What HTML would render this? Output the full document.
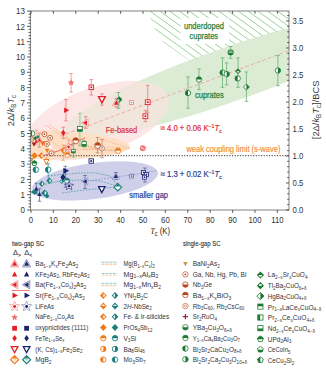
<!DOCTYPE html>
<html><head><meta charset="utf-8"><style>
html,body{margin:0;padding:0;background:#fff;}
svg{display:block;}
</style></head><body>
<svg width="326" height="371" viewBox="0 0 326 371">
<rect width="326" height="371" fill="#fff"/>
<defs><clipPath id="pc"><rect x="30.5" y="11" width="258.5" height="199"/></clipPath><clipPath id="cpink"><ellipse cx="97.3" cy="120.8" rx="74.9" ry="33.3" transform="rotate(-18.9 97.3 120.8)"/></clipPath><clipPath id="hc"><path d="M149.2,11 C150,15 150.6,18 151.6,21 C152.6,24.5 153.8,27.5 155.8,30.5 C158.2,34.5 160.8,38.5 164,42.8 L191,61.6 L200,56.4 L210,52.7 L220,49.2 L235,44.1 L250,39.3 L270,33.4 L289,27.9 L289,11 Z"/></clipPath><mask id="hm"><rect x="0" y="0" width="326" height="371" fill="#fff"/><rect x="180.5" y="18" width="48.5" height="26" fill="#000"/></mask></defs>
<g clip-path="url(#pc)">
<ellipse cx="97.3" cy="120.8" rx="74.9" ry="33.3" transform="rotate(-18.9 97.3 120.8)" fill="#fde6e6"/>
<ellipse cx="226.8" cy="75.5" rx="172.9" ry="27.1" transform="rotate(-19.2 226.8 75.5)" fill="#dcecd4"/>
<g clip-path="url(#cpink)"><ellipse cx="226.8" cy="75.5" rx="172.9" ry="27.1" transform="rotate(-19.2 226.8 75.5)" fill="#f1e6dc"/></g>
<ellipse cx="43.0" cy="144.6" rx="86.9" ry="14.1" transform="rotate(1.5 43.0 144.6)" fill="#fddfc6"/>
<ellipse cx="95.0" cy="180.9" rx="63.5" ry="18.0" transform="rotate(-7.5 95.0 180.9)" fill="#cfcfea"/>
<g clip-path="url(#hc)"><path d="M91.10,11 l120,86.40M100.90,11 l120,86.40M110.70,11 l120,86.40M120.50,11 l120,86.40M130.30,11 l120,86.40M140.10,11 l120,86.40M149.90,11 l120,86.40M159.70,11 l120,86.40M169.50,11 l120,86.40M179.30,11 l120,86.40M189.10,11 l120,86.40M198.90,11 l120,86.40M208.70,11 l120,86.40M218.50,11 l120,86.40M228.30,11 l120,86.40M238.10,11 l120,86.40M247.90,11 l120,86.40M257.70,11 l120,86.40M267.50,11 l120,86.40M277.30,11 l120,86.40M287.10,11 l120,86.40M296.90,11 l120,86.40" stroke="#92d292" stroke-width="0.95" fill="none" mask="url(#hm)"/></g>
<path d="M60,136.2 L289,50.6" stroke="#eea4a4" stroke-width="0.95" stroke-dasharray="3.6,2.4" fill="none"/>
<path d="M30.5,155.7 H289" stroke="#333" stroke-width="1" stroke-dasharray="1.2,1.45" fill="none"/>
<g fill="none" stroke-width="0.7" stroke-dasharray="1.8,1.2">
<path d="M45,125 L72,142 L100,150 L118,151" stroke="#f0a070"/>
<path d="M49,124.5 L78,145 L95,147" stroke="#f0a070"/>
<path d="M40,133 L64,150 L90,149 L115,147 L130,149" stroke="#f3b080"/>
<path d="M83,149.5 L118,150" stroke="#f0a070"/>
<path d="M100,139 L130,148" stroke="#f3b080"/>
<path d="M48,176 L62,174.5 L80,173 L95,172.8 L110,176 L118,186" stroke="#3f9a9a"/>
<path d="M42,185 L60,181 L80,180 L100,181 L117,186" stroke="#3f9a9a"/>
<path d="M62,193 L80,190.5 L100,188.5 L117,187" stroke="#3f9a9a"/>
<path d="M92,180.5 L115,177 L132,175 L156,170.7" stroke="#8a8cc0"/>
</g>
<path d="M44.6,155.2 L58,151 L67,146.5 L85,137.9" stroke="#e8444a" stroke-width="0.8" fill="none"/>
<path d="M71.10,73.50V92.20M69.30,73.50H72.90M69.30,92.20H72.90" stroke="#f08080" stroke-width="0.75" fill="none"/>
<path d="M71.10,79.30 L72.10,81.32 L74.33,81.65 L72.72,83.23 L73.10,85.45 L71.10,84.40 L69.10,85.45 L69.48,83.23 L67.87,81.65 L70.10,81.32 Z" fill="#f07070"/>
<path d="M91.30,79.60V95.00M89.50,79.60H93.10M89.50,95.00H93.10" stroke="#e67474" stroke-width="0.75" fill="none"/>
<rect x="89.00" y="85.00" width="4.60" height="4.60" fill="#fff" stroke="#e41e26" stroke-width="0.9"/><rect x="90.38" y="86.38" width="1.84" height="1.84" fill="#e41e26"/>
<path d="M101.90,93.80V105.20M100.10,93.80H103.70M100.10,105.20H103.70" stroke="#e67474" stroke-width="0.75" fill="none"/>
<path d="M101.90,102.90 L105.32,96.60 L98.48,96.60 Z" fill="#fff" stroke="#e41e26" stroke-width="1.4" stroke-linejoin="miter"/>
<path d="M116.30,98.30V107.20M114.50,98.30H118.10M114.50,107.20H118.10" stroke="#e67474" stroke-width="0.75" fill="none"/>
<path d="M116.30,98.60 L120.29,105.95 L112.31,105.95 Z" fill="#fff" fill-opacity="0.6" stroke="#f09090" stroke-width="0.7"/><path d="M116.30,100.20 L118.77,104.75 L113.83,104.75 Z" fill="#e41e26"/>
<path d="M118.40,92.50V108.40M116.60,92.50H120.20M116.60,108.40H120.20" stroke="#62ad72" stroke-width="0.75" fill="none"/>
<path d="M119.20,96.80 L122.00,99.60 L119.20,102.40 L116.40,99.60 Z" fill="#fff" stroke="#1b7a30" stroke-width="0.7"/><path d="M119.2,96.8 L122,99.6 L116.4,99.6 Z" fill="#1b7a30"/><path d="M119.2,96.8 L122,99.6 L119.2,102.4 Z" fill="#1b7a30"/>
<rect x="129.60" y="100.70" width="3.80" height="3.80" fill="#fff" stroke="#f07070" stroke-width="0.7"/><rect x="130.74" y="101.84" width="1.52" height="1.52" fill="#f07070"/>
<path d="M147.70,85.40V112.20M145.90,85.40H149.50M145.90,112.20H149.50" stroke="#e67474" stroke-width="0.75" fill="none"/>
<rect x="145.30" y="99.80" width="4.80" height="4.80" fill="#fff" stroke="#e41e26" stroke-width="0.9"/><rect x="146.74" y="101.24" width="1.92" height="1.92" fill="#e41e26"/>
<path d="M145.40,110.40V121.70M143.60,110.40H147.20M143.60,121.70H147.20" stroke="#e67474" stroke-width="0.75" fill="none"/>
<rect x="143.00" y="113.90" width="4.80" height="4.80" fill="#fff" stroke="#e41e26" stroke-width="0.9"/><rect x="144.44" y="115.34" width="1.92" height="1.92" fill="#e41e26"/>
<path d="M66.00,99.60V120.80M64.20,99.60H67.80M64.20,120.80H67.80" stroke="#e67474" stroke-width="0.75" fill="none"/>
<path d="M69.20,110.30 L64.12,107.55 L64.12,113.05 Z" fill="#e41e26"/>
<path d="M85.80,116.70V128.30M84.00,116.70H87.60M84.00,128.30H87.60" stroke="#e67474" stroke-width="0.75" fill="none"/>
<path d="M81.20,122.80 L88.20,119.00 L88.20,126.60 Z" fill="#fff" fill-opacity="0.6" stroke="#f09090" stroke-width="0.7"/><path d="M82.72,122.80 L87.06,120.44 L87.06,125.16 Z" fill="#e41e26"/>
<path d="M79.90,113.30V146.00M78.10,113.30H81.70M78.10,146.00H81.70" stroke="#7cc08a" stroke-width="0.75" fill="none"/>
<rect x="77.50" y="126.50" width="4.80" height="4.80" fill="#fff" stroke="#1b7a30" stroke-width="0.8"/><rect x="77.50" y="129.14" width="4.80" height="2.16" fill="#1b7a30"/>
<path d="M63.30,127.10V138.60M61.50,127.10H65.10M61.50,138.60H65.10" stroke="#e67474" stroke-width="0.75" fill="none"/>
<path d="M63.30,129.70 L65.50,132.80 L63.30,135.90 L61.10,132.80 Z" fill="#e41e26"/>
<circle cx="142.80" cy="148.30" r="3.00" fill="#f07878"/><path d="M140.6,147.2 L144.6,149.4" stroke="#fff" stroke-width="0.8"/>
<path d="M36.30,130.00V144.30M34.50,130.00H38.10M34.50,144.30H38.10" stroke="#f0a0a0" stroke-width="0.75" fill="none"/>
<path d="M39.30,133.30V147.10M37.50,133.30H41.10M37.50,147.10H41.10" stroke="#e67474" stroke-width="0.75" fill="none"/>
<circle cx="32.10" cy="133.50" r="2.70" fill="#fff" stroke="#1b7a30" stroke-width="0.8"/><path d="M32.10,130.80 A2.70,2.70 0 0 0 32.10,136.20 Z" fill="#1b7a30"/>
<circle cx="31.40" cy="139.30" r="2.40" fill="#fff" stroke="#b5461a" stroke-width="0.7"/><circle cx="31.40" cy="139.30" r="1.01" fill="none" stroke="#b5461a" stroke-width="0.5599999999999999"/>
<path d="M35.20,136.00 L37.00,138.20 L35.20,140.40 L33.40,138.20 Z" fill="#1b7a30"/>
<path d="M38.00,134.80 L39.80,137.00 L38.00,139.20 L36.20,137.00 Z" fill="#1a7f7a"/>
<path d="M39.50,136.70 L42.54,142.30 L36.46,142.30 Z" fill="#fff" fill-opacity="0.6" stroke="#f09090" stroke-width="0.6"/><path d="M39.50,137.92 L41.38,141.39 L37.62,141.39 Z" fill="#e41e26"/>
<path d="M36.30,139.40 L38.10,142.73 L34.49,142.73 Z" fill="#e41e26"/>
<path d="M34.00,146.70 L36.28,142.50 L31.72,142.50 Z" fill="#a01818"/>
<circle cx="44.40" cy="134.20" r="2.50" fill="#fff" stroke="#b5461a" stroke-width="0.8"/><circle cx="44.40" cy="134.20" r="0.88" fill="#b5461a"/>
<circle cx="50.10" cy="137.90" r="2.50" fill="#fff" stroke="#b5461a" stroke-width="0.8"/><circle cx="50.10" cy="137.90" r="0.88" fill="#b5461a"/>
<circle cx="46.90" cy="143.90" r="2.50" fill="#fff" stroke="#b5461a" stroke-width="0.8"/><circle cx="46.90" cy="143.90" r="0.88" fill="#b5461a"/>
<circle cx="51.50" cy="153.30" r="2.50" fill="#fff" stroke="#b5461a" stroke-width="0.8"/><circle cx="51.50" cy="153.30" r="0.88" fill="#b5461a"/>
<path d="M42.70,146.20 L45.36,141.30 L40.04,141.30 Z" fill="#f07a1a"/>
<circle cx="50.20" cy="147.20" r="1.60" fill="#fff"/>
<path d="M34.40,152.30 L37.70,155.60 L34.40,158.90 L31.10,155.60 Z" fill="#f07a1a"/>
<path d="M41.30,152.30 L44.30,155.60 L41.30,158.90 L38.30,155.60 Z" fill="#f07a1a"/><path d="M41.30,154.10 A1.50,1.50 0 0 1 41.30,157.10 Z" fill="#fff"/>
<path d="M47.20,152.90 L49.48,148.70 L44.92,148.70 Z" fill="#f07a1a"/>
<path d="M63.20,145.00V160.30M61.40,145.00H65.00M61.40,160.30H65.00" stroke="#f0a060" stroke-width="0.75" fill="none"/>
<path d="M63.60,147.30 L66.60,150.50 L63.60,153.70 L60.60,150.50 Z" fill="#f07a1a"/><path d="M63.60,149.00 A1.50,1.50 0 0 1 63.60,152.00 Z" fill="#fff"/>
<circle cx="67.30" cy="154.80" r="2.60" fill="#fff" stroke="#f07a1a" stroke-width="0.8"/><path d="M64.70,154.80 A2.60,2.60 0 0 1 69.90,154.80 Z" fill="#f07a1a"/>
<path d="M73.40,144.00V157.00M71.60,144.00H75.20M71.60,157.00H75.20" stroke="#62ad72" stroke-width="0.75" fill="none"/>
<rect x="71.60" y="149.30" width="3.60" height="3.60" fill="#fff" stroke="#1b7a30" stroke-width="0.8"/><rect x="71.60" y="151.28" width="3.60" height="1.62" fill="#1b7a30"/>
<path d="M68.60,140.00V152.00M66.80,140.00H70.40M66.80,152.00H70.40" stroke="#f0a0a0" stroke-width="0.75" fill="none"/>
<path d="M68.60,142.50 L69.76,145.30 L72.78,145.54 L70.48,147.51 L71.19,150.46 L68.60,148.88 L66.01,150.46 L66.72,147.51 L64.42,145.54 L67.44,145.30 Z" fill="#fff" fill-opacity="0.5" stroke="#f07a7a" stroke-width="0.6"/><circle cx="68.60" cy="146.90" r="1.23" fill="#e41e26"/>
<circle cx="75.70" cy="140.60" r="2.90" fill="#fff" stroke="#b5461a" stroke-width="0.8"/><path d="M72.80,140.60 A2.90,2.90 0 0 1 78.60,140.60 Z" fill="#b5461a"/>
<path d="M84.10,140.60V147.10M82.30,140.60H85.90M82.30,147.10H85.90" stroke="#62ad72" stroke-width="0.75" fill="none"/>
<rect x="81.90" y="141.70" width="4.40" height="4.40" fill="#fff" stroke="#1b7a30" stroke-width="0.8"/><rect x="81.90" y="144.12" width="4.40" height="1.98" fill="#1b7a30"/>
<path d="M97.60,137.50V152.80M95.80,137.50H99.40M95.80,152.80H99.40" stroke="#c08060" stroke-width="0.75" fill="none"/>
<circle cx="97.60" cy="145.40" r="2.90" fill="#fff" stroke="#b5461a" stroke-width="0.8"/><path d="M94.70,145.40 A2.90,2.90 0 0 1 100.50,145.40 Z" fill="#b5461a"/>
<path d="M102.00,139.30V157.70M100.20,139.30H103.80M100.20,157.70H103.80" stroke="#c08060" stroke-width="0.75" fill="none"/>
<circle cx="102.00" cy="148.50" r="2.50" fill="#fff" stroke="#b07060" stroke-width="0.8"/><circle cx="102.00" cy="148.50" r="1.05" fill="none" stroke="#b07060" stroke-width="0.6400000000000001"/>
<circle cx="118.00" cy="150.70" r="2.80" fill="#fff" stroke="#f07a1a" stroke-width="0.8"/><path d="M115.20,150.70 A2.80,2.80 0 0 1 120.80,150.70 Z" fill="#f07a1a"/>
<path d="M31.70,162.10 L33.88,158.08 L29.52,158.08 Z" fill="#c29a55"/>
<path d="M34.40,160.40 L37.06,162.33 L36.05,165.47 L32.75,165.47 L31.74,162.33 Z" fill="#fff" stroke="#1b7a30" stroke-width="0.8"/><path d="M31.74,162.33 L34.40,160.40 L37.06,162.33 L36.92,163.48 L31.88,163.48 Z" fill="#1b7a30"/>
<path d="M46.40,158.00V164.00M44.60,158.00H48.20M44.60,164.00H48.20" stroke="#f0a060" stroke-width="0.75" fill="none"/>
<path d="M46.40,164.40 L49.06,159.50 L43.74,159.50 Z" fill="#fff" stroke="#f07a1a" stroke-width="1.0" stroke-linejoin="miter"/>
<rect x="89.00" y="158.80" width="4.40" height="4.40" fill="#fff" stroke="#1c2472" stroke-width="0.9"/><rect x="90.32" y="160.12" width="1.76" height="1.76" fill="#1c2472"/>
<path d="M48.20,163.70V181.20M46.40,163.70H50.00M46.40,181.20H50.00" stroke="#4a9a96" stroke-width="0.75" fill="none"/>
<circle cx="35.80" cy="169.70" r="2.80" fill="#fff" stroke="#1a7f7a" stroke-width="0.9"/><path d="M35.80,166.90 A2.80,2.80 0 0 0 35.80,172.50 Z" fill="#1a7f7a"/>
<circle cx="48.20" cy="169.70" r="2.80" fill="#fff" stroke="#1a7f7a" stroke-width="0.9"/><path d="M48.20,166.90 A2.80,2.80 0 0 0 48.20,172.50 Z" fill="#1a7f7a"/>
<path d="M49.40,177.60 L52.40,180.80 L49.40,184.00 L46.40,180.80 Z" fill="#1a7f7a"/><path d="M49.40,179.30 A1.50,1.50 0 0 1 49.40,182.30 Z" fill="#fff"/>
<path d="M41.80,180.50 L44.80,183.70 L41.80,186.90 L38.80,183.70 Z" fill="#1a7f7a"/><path d="M41.80,182.20 A1.50,1.50 0 0 1 41.80,185.20 Z" fill="#fff"/>
<path d="M36.30,183.20V194.00M34.50,183.20H38.10M34.50,194.00H38.10" stroke="#5a5f9a" stroke-width="0.75" fill="none"/>
<path d="M36.30,186.50 L38.58,190.70 L34.02,190.70 Z" fill="#1c2472"/>
<path d="M34.40,189.20 L38.20,192.00 L34.40,194.80 L30.60,192.00 Z" fill="#1a7f7a"/>
<path d="M39.50,188.70V201.20M37.70,188.70H41.30M37.70,201.20H41.30" stroke="#5a5f9a" stroke-width="0.75" fill="none"/>
<path d="M39.50,191.90 L41.78,196.10 L37.22,196.10 Z" fill="#1c2472"/>
<path d="M44.60,189.40 L48.20,193.00 L44.60,196.60 L41.00,193.00 Z" fill="#1a7f7a"/><path d="M44.60,191.20 A1.80,1.80 0 0 1 44.60,194.80 Z" fill="#fff"/>
<path d="M47.00,193.60 L49.40,196.00 L47.00,198.40 L44.60,196.00 Z" fill="#1a7f7a"/>
<path d="M65.40,166.30V187.20M63.60,166.30H67.20M63.60,187.20H67.20" stroke="#5a5f9a" stroke-width="0.75" fill="none"/>
<path d="M69.10,170.80 L63.32,167.67 L63.32,173.94 Z" fill="#1c2472"/>
<path d="M63.00,173.70 L65.60,177.30 L63.00,180.90 L60.40,177.30 Z" fill="#1c2472"/>
<circle cx="67.00" cy="180.60" r="2.60" fill="#fff" stroke="#1a7f7a" stroke-width="0.8"/><path d="M64.40,180.60 A2.60,2.60 0 0 1 69.60,180.60 Z" fill="#1a7f7a"/>
<path d="M61.70,179.20 L64.10,181.60 L61.70,184.00 L59.30,181.60 Z" fill="#1a7f7a"/><path d="M61.70,180.40 A1.20,1.20 0 0 0 61.70,182.80 Z" fill="#fff"/>
<path d="M69.10,181.10 L70.37,184.15 L73.67,184.42 L71.15,186.57 L71.92,189.78 L69.10,188.06 L66.28,189.78 L67.05,186.57 L64.53,184.42 L67.83,184.15 Z" fill="#fff" fill-opacity="0.5" stroke="#4a4f90" stroke-width="0.8"/><circle cx="69.10" cy="185.90" r="1.34" fill="#1c2472"/>
<path d="M85.00,175.50V188.40M83.20,175.50H86.80M83.20,188.40H86.80" stroke="#5a5f9a" stroke-width="0.75" fill="none"/>
<path d="M81.20,181.40 L87.85,177.79 L87.85,185.01 Z" fill="#fff" fill-opacity="0.6" stroke="#7a7fb0" stroke-width="0.6"/><path d="M82.64,181.40 L86.77,179.16 L86.77,183.64 Z" fill="#1c2472"/>
<path d="M115.90,172.50V179.50M114.10,172.50H117.70M114.10,179.50H117.70" stroke="#5a5f9a" stroke-width="0.75" fill="none"/>
<path d="M115.90,172.40 L119.51,179.05 L112.29,179.05 Z" fill="#fff" fill-opacity="0.6" stroke="#7a7fb0" stroke-width="0.6"/><path d="M115.90,173.84 L118.14,177.97 L113.66,177.97 Z" fill="#1c2472"/>
<rect x="129.80" y="174.20" width="3.80" height="3.80" fill="#fff" stroke="#4a50a0" stroke-width="0.7"/><rect x="130.94" y="175.34" width="1.52" height="1.52" fill="#4a50a0"/>
<path d="M144.90,168.00V182.00M143.10,168.00H146.70M143.10,182.00H146.70" stroke="#5a5f9a" stroke-width="0.75" fill="none"/>
<rect x="141.50" y="170.50" width="4.00" height="4.00" fill="#fff" stroke="#1c2472" stroke-width="0.8"/><rect x="142.70" y="171.70" width="1.60" height="1.60" fill="#1c2472"/>
<rect x="144.50" y="172.50" width="4.00" height="4.00" fill="#fff" stroke="#1c2472" stroke-width="0.8"/><rect x="145.70" y="173.70" width="1.60" height="1.60" fill="#1c2472"/>
<rect x="142.50" y="175.20" width="4.00" height="4.00" fill="#fff" stroke="#1c2472" stroke-width="0.8"/><rect x="143.70" y="176.40" width="1.60" height="1.60" fill="#1c2472"/>
<path d="M101.80,192.60 L105.03,186.65 L98.57,186.65 Z" fill="#fff" stroke="#1c2472" stroke-width="1.3" stroke-linejoin="miter"/>
<path d="M117.80,183.40 L121.60,187.20 L117.80,191.00 L114.00,187.20 Z" fill="#fff" stroke="#1a7f7a" stroke-width="1.1"/><path d="M115.4,186.4 H120.2 L117.8,183.8 Z" fill="#1a7f7a"/>
<path d="M188.00,76.90V108.30M186.20,76.90H189.80M186.20,108.30H189.80" stroke="#62ad72" stroke-width="0.75" fill="none"/>
<circle cx="188.00" cy="93.00" r="2.70" fill="#fff" stroke="#1b7a30" stroke-width="0.8"/><path d="M188.00,90.30 A2.70,2.70 0 0 0 188.00,95.70 Z" fill="#1b7a30"/>
<path d="M199.00,69.00V89.60M197.20,69.00H200.80M197.20,89.60H200.80" stroke="#62ad72" stroke-width="0.75" fill="none"/>
<circle cx="199.00" cy="79.50" r="2.70" fill="#fff" stroke="#1b7a30" stroke-width="0.8"/><path d="M196.30,79.50 A2.70,2.70 0 0 1 201.70,79.50 Z" fill="#1b7a30"/>
<path d="M230.60,46.50V58.30M228.80,46.50H232.40M228.80,58.30H232.40" stroke="#62ad72" stroke-width="0.75" fill="none"/>
<circle cx="230.60" cy="52.40" r="2.70" fill="#fff" stroke="#1b7a30" stroke-width="0.8"/><path d="M227.90,52.40 A2.70,2.70 0 0 0 233.30,52.40 Z" fill="#1b7a30"/><rect x="228" y="50.4" width="5.2" height="1.2" fill="#1b7a30"/>
<path d="M222.50,57.90V87.30M220.70,57.90H224.30M220.70,87.30H224.30" stroke="#62ad72" stroke-width="0.75" fill="none"/>
<circle cx="222.60" cy="72.60" r="2.70" fill="#fff" stroke="#1b7a30" stroke-width="0.8"/><path d="M222.60,69.90 A2.70,2.70 0 0 0 222.60,75.30 Z" fill="#1b7a30"/>
<path d="M226.60,62.90V84.80M224.80,62.90H228.40M224.80,84.80H228.40" stroke="#62ad72" stroke-width="0.75" fill="none"/>
<circle cx="226.70" cy="74.10" r="2.70" fill="#fff" stroke="#1b7a30" stroke-width="0.8"/><path d="M226.70,71.40 A2.70,2.70 0 0 1 226.70,76.80 Z" fill="#1b7a30"/>
<path d="M238.00,57.90V87.30M236.20,57.90H239.80M236.20,87.30H239.80" stroke="#62ad72" stroke-width="0.75" fill="none"/>
<path d="M238.00,68.40 L241.00,71.20 L238.00,74.00 L235.00,71.20 Z" fill="#1b7a30"/><path d="M236.60,71.20 A1.40,1.40 0 0 0 239.40,71.20 Z" fill="#fff"/>
<circle cx="237.70" cy="78.40" r="2.70" fill="#fff" stroke="#1b7a30" stroke-width="0.8"/><path d="M237.70,75.70 A2.70,2.70 0 0 0 237.70,81.10 Z" fill="#1b7a30"/>
<path d="M246.40,72.00V101.40M244.60,72.00H248.20M244.60,101.40H248.20" stroke="#62ad72" stroke-width="0.75" fill="none"/>
<path d="M246.40,84.00 L249.40,87.00 L246.40,90.00 L243.40,87.00 Z" fill="#fff" stroke="#1b7a30" stroke-width="0.8"/><path d="M246.40,84.00 L249.40,87.00 L246.40,90.00 Z" fill="#1b7a30"/>
<path d="M277.90,55.40V85.70M276.10,55.40H279.70M276.10,85.70H279.70" stroke="#62ad72" stroke-width="0.75" fill="none"/>
<circle cx="277.90" cy="70.50" r="2.70" fill="#fff" stroke="#1b7a30" stroke-width="0.8"/><path d="M277.90,67.80 A2.70,2.70 0 0 1 277.90,73.20 Z" fill="#1b7a30"/>
</g>
<rect x="30.5" y="11" width="258.5" height="199" fill="none" stroke="#8c8c8c" stroke-width="1.1"/>
<path d="M27.0,210.00H30.5M28.5,206.94H30.5M28.5,203.88H30.5M28.5,200.82H30.5M28.5,197.76H30.5M27.0,194.70H30.5M28.5,191.64H30.5M28.5,188.58H30.5M28.5,185.52H30.5M28.5,182.46H30.5M27.0,179.40H30.5M28.5,176.34H30.5M28.5,173.28H30.5M28.5,170.22H30.5M28.5,167.16H30.5M27.0,164.10H30.5M28.5,161.04H30.5M28.5,157.98H30.5M28.5,154.92H30.5M28.5,151.86H30.5M27.0,148.80H30.5M28.5,145.74H30.5M28.5,142.68H30.5M28.5,139.62H30.5M28.5,136.56H30.5M27.0,133.50H30.5M28.5,130.44H30.5M28.5,127.38H30.5M28.5,124.32H30.5M28.5,121.26H30.5M27.0,118.20H30.5M28.5,115.14H30.5M28.5,112.08H30.5M28.5,109.02H30.5M28.5,105.96H30.5M27.0,102.90H30.5M28.5,99.84H30.5M28.5,96.78H30.5M28.5,93.72H30.5M28.5,90.66H30.5M27.0,87.60H30.5M28.5,84.54H30.5M28.5,81.48H30.5M28.5,78.42H30.5M28.5,75.36H30.5M27.0,72.30H30.5M28.5,69.24H30.5M28.5,66.18H30.5M28.5,63.12H30.5M28.5,60.06H30.5M27.0,57.00H30.5M28.5,53.94H30.5M28.5,50.88H30.5M28.5,47.82H30.5M28.5,44.76H30.5M27.0,41.70H30.5M28.5,38.64H30.5M28.5,35.58H30.5M28.5,32.52H30.5M28.5,29.46H30.5M27.0,26.40H30.5M28.5,23.34H30.5M28.5,20.28H30.5M28.5,17.22H30.5M28.5,14.16H30.5M27.0,11.10H30.5M289,210.00H286M289,204.60H287.2M289,199.20H287.2M289,193.80H287.2M289,188.40H287.2M289,183.00H286M289,177.59H287.2M289,172.19H287.2M289,166.79H287.2M289,161.39H287.2M289,155.99H286M289,150.59H287.2M289,145.19H287.2M289,139.79H287.2M289,134.39H287.2M289,128.99H286M289,123.59H287.2M289,118.18H287.2M289,112.78H287.2M289,107.38H287.2M289,101.98H286M289,96.58H287.2M289,91.18H287.2M289,85.78H287.2M289,80.38H287.2M289,74.98H286M289,69.58H287.2M289,64.18H287.2M289,58.77H287.2M289,53.37H287.2M289,47.97H286M289,42.57H287.2M289,37.17H287.2M289,31.77H287.2M289,26.37H287.2M289,20.97H286M289,15.57H287.2M31.00,210V212.8M31.00,11V13.8M53.40,210V212.8M53.40,11V13.8M75.80,210V212.8M75.80,11V13.8M98.20,210V212.8M98.20,11V13.8M120.60,210V212.8M120.60,11V13.8M143.00,210V212.8M143.00,11V13.8M165.40,210V212.8M165.40,11V13.8M187.80,210V212.8M187.80,11V13.8M210.20,210V212.8M210.20,11V13.8M232.60,210V212.8M232.60,11V13.8M255.00,210V212.8M255.00,11V13.8M277.40,210V212.8M277.40,11V13.8" stroke="#333" stroke-width="0.8" fill="none"/>
<text transform="translate(24.9,213.10) scale(0.86,1)" text-anchor="end" font-size="9.3" fill="#333" font-family="Liberation Sans, sans-serif">0</text>
<text transform="translate(24.9,197.80) scale(0.86,1)" text-anchor="end" font-size="9.3" fill="#333" font-family="Liberation Sans, sans-serif">1</text>
<text transform="translate(24.9,182.50) scale(0.86,1)" text-anchor="end" font-size="9.3" fill="#333" font-family="Liberation Sans, sans-serif">2</text>
<text transform="translate(24.9,167.20) scale(0.86,1)" text-anchor="end" font-size="9.3" fill="#333" font-family="Liberation Sans, sans-serif">3</text>
<text transform="translate(24.9,151.90) scale(0.86,1)" text-anchor="end" font-size="9.3" fill="#333" font-family="Liberation Sans, sans-serif">4</text>
<text transform="translate(24.9,136.60) scale(0.86,1)" text-anchor="end" font-size="9.3" fill="#333" font-family="Liberation Sans, sans-serif">5</text>
<text transform="translate(24.9,121.30) scale(0.86,1)" text-anchor="end" font-size="9.3" fill="#333" font-family="Liberation Sans, sans-serif">6</text>
<text transform="translate(24.9,106.00) scale(0.86,1)" text-anchor="end" font-size="9.3" fill="#333" font-family="Liberation Sans, sans-serif">7</text>
<text transform="translate(24.9,90.70) scale(0.86,1)" text-anchor="end" font-size="9.3" fill="#333" font-family="Liberation Sans, sans-serif">8</text>
<text transform="translate(24.9,75.40) scale(0.86,1)" text-anchor="end" font-size="9.3" fill="#333" font-family="Liberation Sans, sans-serif">9</text>
<text transform="translate(24.9,60.10) scale(0.86,1)" text-anchor="end" font-size="9.3" fill="#333" font-family="Liberation Sans, sans-serif">10</text>
<text transform="translate(24.9,44.80) scale(0.86,1)" text-anchor="end" font-size="9.3" fill="#333" font-family="Liberation Sans, sans-serif">11</text>
<text transform="translate(24.9,29.50) scale(0.86,1)" text-anchor="end" font-size="9.3" fill="#333" font-family="Liberation Sans, sans-serif">12</text>
<text transform="translate(24.9,14.20) scale(0.86,1)" text-anchor="end" font-size="9.3" fill="#333" font-family="Liberation Sans, sans-serif">13</text>
<text transform="translate(31.00,222.6) scale(0.86,1)" text-anchor="middle" font-size="9.0" fill="#333" font-family="Liberation Sans, sans-serif">0</text>
<text transform="translate(53.40,222.6) scale(0.86,1)" text-anchor="middle" font-size="9.0" fill="#333" font-family="Liberation Sans, sans-serif">10</text>
<text transform="translate(75.80,222.6) scale(0.86,1)" text-anchor="middle" font-size="9.0" fill="#333" font-family="Liberation Sans, sans-serif">20</text>
<text transform="translate(98.20,222.6) scale(0.86,1)" text-anchor="middle" font-size="9.0" fill="#333" font-family="Liberation Sans, sans-serif">30</text>
<text transform="translate(120.60,222.6) scale(0.86,1)" text-anchor="middle" font-size="9.0" fill="#333" font-family="Liberation Sans, sans-serif">40</text>
<text transform="translate(143.00,222.6) scale(0.86,1)" text-anchor="middle" font-size="9.0" fill="#333" font-family="Liberation Sans, sans-serif">50</text>
<text transform="translate(165.40,222.6) scale(0.86,1)" text-anchor="middle" font-size="9.0" fill="#333" font-family="Liberation Sans, sans-serif">60</text>
<text transform="translate(187.80,222.6) scale(0.86,1)" text-anchor="middle" font-size="9.0" fill="#333" font-family="Liberation Sans, sans-serif">70</text>
<text transform="translate(210.20,222.6) scale(0.86,1)" text-anchor="middle" font-size="9.0" fill="#333" font-family="Liberation Sans, sans-serif">80</text>
<text transform="translate(232.60,222.6) scale(0.86,1)" text-anchor="middle" font-size="9.0" fill="#333" font-family="Liberation Sans, sans-serif">90</text>
<text transform="translate(255.00,222.6) scale(0.86,1)" text-anchor="middle" font-size="9.0" fill="#333" font-family="Liberation Sans, sans-serif">100</text>
<text transform="translate(277.40,222.6) scale(0.86,1)" text-anchor="middle" font-size="9.0" fill="#333" font-family="Liberation Sans, sans-serif">110</text>
<text transform="translate(292.6,213.30) scale(0.84,1)" font-size="9.2" fill="#333" font-family="Liberation Sans, sans-serif">0.0</text>
<text transform="translate(292.6,186.30) scale(0.84,1)" font-size="9.2" fill="#333" font-family="Liberation Sans, sans-serif">0.5</text>
<text transform="translate(292.6,159.29) scale(0.84,1)" font-size="9.2" fill="#333" font-family="Liberation Sans, sans-serif">1.0</text>
<text transform="translate(292.6,132.29) scale(0.84,1)" font-size="9.2" fill="#333" font-family="Liberation Sans, sans-serif">1.5</text>
<text transform="translate(292.6,105.28) scale(0.84,1)" font-size="9.2" fill="#333" font-family="Liberation Sans, sans-serif">2.0</text>
<text transform="translate(292.6,78.28) scale(0.84,1)" font-size="9.2" fill="#333" font-family="Liberation Sans, sans-serif">2.5</text>
<text transform="translate(292.6,51.27) scale(0.84,1)" font-size="9.2" fill="#333" font-family="Liberation Sans, sans-serif">3.0</text>
<text transform="translate(292.6,24.27) scale(0.84,1)" font-size="9.2" fill="#333" font-family="Liberation Sans, sans-serif">3.5</text>
<text transform="translate(14.2,126.2) rotate(-90)" font-size="9.8" fill="#3a3a3a" font-family="Liberation Sans, sans-serif" textLength="31.4" lengthAdjust="spacingAndGlyphs">2Δ/<tspan font-style="italic">k</tspan><tspan font-size="6.6" dy="1.6">B</tspan><tspan dy="-1.6" font-style="italic">T</tspan><tspan font-size="6.6" dy="1.6">c</tspan></text>
<text transform="translate(318.6,139.2) rotate(-90)" font-size="9.4" fill="#3a3a3a" font-family="Liberation Sans, sans-serif" textLength="58.6" lengthAdjust="spacingAndGlyphs">[2Δ/<tspan font-style="italic">k</tspan><tspan font-size="6.3" dy="2">B</tspan><tspan dy="-2" font-style="italic">T</tspan><tspan font-size="6.3" dy="2">c</tspan><tspan dy="-2">]/BCS</tspan></text>
<text x="150.4" y="234" font-size="9" fill="#222" font-family="Liberation Sans, sans-serif" textLength="19.6" lengthAdjust="spacingAndGlyphs"><tspan font-style="italic" font-family="Liberation Serif">T</tspan><tspan font-size="6.5" dy="2">c</tspan><tspan dy="-2"> (K)</tspan></text>
<text x="184" y="29.2" font-size="9" fill="#2a7f3c" stroke="#2a7f3c" stroke-width="0.25" font-family="Liberation Sans, sans-serif" textLength="40" lengthAdjust="spacingAndGlyphs">underdoped</text>
<text x="189.6" y="38.8" font-size="9" fill="#2a7f3c" stroke="#2a7f3c" stroke-width="0.25" font-family="Liberation Sans, sans-serif" textLength="28.4" lengthAdjust="spacingAndGlyphs">cuprates</text>
<text x="195" y="98.4" font-size="8.7" fill="#2a7f3c" stroke="#2a7f3c" stroke-width="0.25" font-family="Liberation Sans, sans-serif" textLength="28.8" lengthAdjust="spacingAndGlyphs">cuprates</text>
<text x="105.8" y="133.1" font-size="8.9" fill="#e0262d" stroke="#e0262d" stroke-width="0.15" font-family="Liberation Sans, sans-serif" textLength="31.4" lengthAdjust="spacingAndGlyphs">Fe-based</text>
<text x="160.4" y="131" font-size="9" fill="#e0262d" stroke="#e0262d" stroke-width="0.2" font-family="Liberation Sans, sans-serif" textLength="61.3" lengthAdjust="spacingAndGlyphs"><tspan font-size="9.5">≈</tspan> 4.0 + 0.06 K<tspan font-size="6" dy="-3.4">−1</tspan><tspan dy="3.4" font-style="italic">T</tspan><tspan font-size="6" dy="1.6">c</tspan></text>
<text x="160.4" y="177.2" font-size="9" fill="#2b3a8c" stroke="#2b3a8c" stroke-width="0.2" font-family="Liberation Sans, sans-serif" textLength="61.3" lengthAdjust="spacingAndGlyphs"><tspan font-size="9.5">≈</tspan> 1.3 + 0.02 K<tspan font-size="6" dy="-3.4">−1</tspan><tspan dy="3.4" font-style="italic">T</tspan><tspan font-size="6" dy="1.6">c</tspan></text>
<text x="186.4" y="152.1" font-size="8.4" fill="#f08a38" stroke="#f08a38" stroke-width="0.15" font-family="Liberation Sans, sans-serif" textLength="94" lengthAdjust="spacingAndGlyphs">weak coupling limit (s-wave)</text>
<text x="129.3" y="197.6" font-size="8.8" fill="#2b3a8c" stroke="#2b3a8c" stroke-width="0.2" font-family="Liberation Sans, sans-serif" textLength="38.7" lengthAdjust="spacingAndGlyphs">smaller gap</text>
<text x="12" y="245.6" font-size="7.3" fill="#1e1e1e" stroke="#1e1e1e" stroke-width="0.08" font-family="Liberation Sans, sans-serif" textLength="32.2" lengthAdjust="spacingAndGlyphs">two-gap SC</text>
<text x="182.9" y="245.6" font-size="7.3" fill="#1e1e1e" stroke="#1e1e1e" stroke-width="0.08" font-family="Liberation Sans, sans-serif" textLength="37.6" lengthAdjust="spacingAndGlyphs">single-gap SC</text>
<text x="13" y="255.3" font-size="7.4" fill="#333333" stroke="#333333" stroke-width="0.1" font-family="Liberation Sans, sans-serif">Δ<tspan font-size="5" dy="1.6">&gt;</tspan></text><text x="24.3" y="255.3" font-size="7.4" fill="#333333" stroke="#333333" stroke-width="0.1" font-family="Liberation Sans, sans-serif">Δ<tspan font-size="5" dy="1.6">&lt;</tspan></text>
<path d="M14.60,259.40 L18.68,266.93 L10.52,266.93 Z" fill="#fff" fill-opacity="0.6" stroke="#f07d7d" stroke-width="0.8"/><path d="M14.60,261.03 L17.13,265.70 L12.07,265.70 Z" fill="#e41e26"/>
<path d="M26.60,259.40 L30.69,266.93 L22.52,266.93 Z" fill="#fff" fill-opacity="0.6" stroke="#6b70a8" stroke-width="0.8"/><path d="M26.60,261.03 L29.13,265.70 L24.07,265.70 Z" fill="#1c2472"/>
<path d="M14.60,271.50 L17.26,276.40 L11.94,276.40 Z" fill="#e41e26"/>
<path d="M26.60,271.50 L29.26,276.40 L23.94,276.40 Z" fill="#1c2472"/>
<path d="M10.40,284.70 L17.75,280.71 L17.75,288.69 Z" fill="#fff" fill-opacity="0.6" stroke="#f07d7d" stroke-width="0.8"/><path d="M12.00,284.70 L16.55,282.23 L16.55,287.17 Z" fill="#e41e26"/>
<path d="M22.40,284.70 L29.75,280.71 L29.75,288.69 Z" fill="#fff" fill-opacity="0.6" stroke="#6b70a8" stroke-width="0.8"/><path d="M24.00,284.70 L28.55,282.23 L28.55,287.17 Z" fill="#1c2472"/>
<path d="M11.9,290.50H29.7" stroke="#f06a6a" stroke-width="0.9"/>
<path d="M18.00,295.40 L12.57,292.45 L12.57,298.34 Z" fill="#e41e26"/>
<path d="M30.00,295.40 L24.58,292.45 L24.58,298.34 Z" fill="#1c2472"/>
<path d="M14.60,301.10 L16.00,304.47 L19.64,304.76 L16.87,307.14 L17.72,310.69 L14.60,308.79 L11.48,310.69 L12.33,307.14 L9.56,304.76 L13.20,304.47 Z" fill="#fff" fill-opacity="0.5" stroke="#f07d7d" stroke-width="0.6"/><circle cx="14.60" cy="306.40" r="1.48" fill="#e41e26"/>
<path d="M26.60,301.10 L28.00,304.47 L31.64,304.76 L28.87,307.14 L29.72,310.69 L26.60,308.79 L23.48,310.69 L24.33,307.14 L21.56,304.76 L25.20,304.47 Z" fill="#fff" fill-opacity="0.5" stroke="#6b70a8" stroke-width="0.6"/><circle cx="26.60" cy="306.40" r="1.48" fill="#1c2472"/>
<path d="M14.60,314.00 L15.60,316.02 L17.83,316.35 L16.22,317.93 L16.60,320.15 L14.60,319.10 L12.60,320.15 L12.98,317.93 L11.37,316.35 L13.60,316.02 Z" fill="#f27272"/>
<rect x="12.20" y="325.90" width="4.80" height="4.80" fill="#e41e26"/>
<rect x="24.20" y="325.90" width="4.80" height="4.80" fill="#1c2472"/>
<path d="M14.60,335.00 L16.90,338.30 L14.60,341.60 L12.30,338.30 Z" fill="#e41e26"/>
<path d="M26.60,335.00 L28.90,338.30 L26.60,341.60 L24.30,338.30 Z" fill="#1c2472"/>
<path d="M14.60,352.70 L17.93,346.57 L11.28,346.57 Z" fill="#fff" stroke="#e41e26" stroke-width="1.3" stroke-linejoin="miter"/>
<path d="M26.60,352.70 L29.93,346.57 L23.28,346.57 Z" fill="#fff" stroke="#1c2472" stroke-width="1.3" stroke-linejoin="miter"/>
<path d="M14.60,355.70 L18.60,359.70 L14.60,363.70 L10.60,359.70 Z" fill="#fff" stroke="#f07a1a" stroke-width="1.2"/><path d="M12.00,358.60 H17.20 L14.60,356.00 Z" fill="#f07a1a"/><path d="M12.80,358.90 A1.8,1.8 0 0 0 16.40,358.90 Z" fill="#f07a1a" fill-opacity="0.35"/>
<path d="M26.60,355.70 L30.60,359.70 L26.60,363.70 L22.60,359.70 Z" fill="#fff" stroke="#1a7f7a" stroke-width="1.2"/><path d="M24.00,358.60 H29.20 L26.60,356.00 Z" fill="#1a7f7a"/><path d="M24.80,358.90 A1.8,1.8 0 0 0 28.40,358.90 Z" fill="#1a7f7a" fill-opacity="0.35"/>
<text x="35.3" y="265.9" font-size="7.0" fill="#333333" stroke="#333333" stroke-width="0.0" font-family="Liberation Sans, sans-serif" textLength="43.0" lengthAdjust="spacingAndGlyphs"><tspan>Ba</tspan><tspan font-size="5.04" dy="1.60">1−x</tspan><tspan dy="-1.60">K</tspan><tspan font-size="5.04" dy="1.60">x</tspan><tspan dy="-1.60">Fe</tspan><tspan font-size="5.04" dy="1.60">2</tspan><tspan dy="-1.60">As</tspan><tspan font-size="5.04" dy="1.60">2</tspan></text>
<text x="35.3" y="276.6" font-size="7.0" fill="#333333" stroke="#333333" stroke-width="0.0" font-family="Liberation Sans, sans-serif" textLength="54.4" lengthAdjust="spacingAndGlyphs"><tspan>KFe</tspan><tspan font-size="5.04" dy="1.60">2</tspan><tspan dy="-1.60">As</tspan><tspan font-size="5.04" dy="1.60">2</tspan><tspan dy="-1.60">, RbFe</tspan><tspan font-size="5.04" dy="1.60">2</tspan><tspan dy="-1.60">As</tspan><tspan font-size="5.04" dy="1.60">2</tspan></text>
<text x="35.3" y="287.3" font-size="7.0" fill="#333333" stroke="#333333" stroke-width="0.0" font-family="Liberation Sans, sans-serif" textLength="51.0" lengthAdjust="spacingAndGlyphs"><tspan>Ba(Fe</tspan><tspan font-size="5.04" dy="1.60">1−x</tspan><tspan dy="-1.60">Co</tspan><tspan font-size="5.04" dy="1.60">x</tspan><tspan dy="-1.60">)</tspan><tspan font-size="5.04" dy="1.60">2</tspan><tspan dy="-1.60">As</tspan><tspan font-size="5.04" dy="1.60">2</tspan></text>
<text x="35.3" y="298.0" font-size="7.0" fill="#333333" stroke="#333333" stroke-width="0.0" font-family="Liberation Sans, sans-serif" textLength="49.5" lengthAdjust="spacingAndGlyphs"><tspan>Sr(Fe</tspan><tspan font-size="5.04" dy="1.60">1−x</tspan><tspan dy="-1.60">Co</tspan><tspan font-size="5.04" dy="1.60">x</tspan><tspan dy="-1.60">)</tspan><tspan font-size="5.04" dy="1.60">2</tspan><tspan dy="-1.60">As</tspan><tspan font-size="5.04" dy="1.60">2</tspan></text>
<text x="35.3" y="308.7" font-size="7.0" fill="#333333" stroke="#333333" stroke-width="0.0" font-family="Liberation Sans, sans-serif" textLength="18.7" lengthAdjust="spacingAndGlyphs"><tspan>LiFeAs</tspan></text>
<text x="35.3" y="319.4" font-size="7.0" fill="#333333" stroke="#333333" stroke-width="0.0" font-family="Liberation Sans, sans-serif" textLength="38.7" lengthAdjust="spacingAndGlyphs"><tspan>NaFe</tspan><tspan font-size="5.04" dy="1.60">1−x</tspan><tspan dy="-1.60">Co</tspan><tspan font-size="5.04" dy="1.60">x</tspan><tspan dy="-1.60">As</tspan></text>
<text x="35.3" y="330.1" font-size="7.0" fill="#333333" stroke="#333333" stroke-width="0.0" font-family="Liberation Sans, sans-serif" textLength="53.1" lengthAdjust="spacingAndGlyphs"><tspan>oxypnictides (1111)</tspan></text>
<text x="35.3" y="340.8" font-size="7.0" fill="#333333" stroke="#333333" stroke-width="0.0" font-family="Liberation Sans, sans-serif" textLength="29.1" lengthAdjust="spacingAndGlyphs"><tspan>FeTe</tspan><tspan font-size="5.04" dy="1.60">1−x</tspan><tspan dy="-1.60">Se</tspan><tspan font-size="5.04" dy="1.60">x</tspan></text>
<text x="35.3" y="351.5" font-size="7.0" fill="#333333" stroke="#333333" stroke-width="0.0" font-family="Liberation Sans, sans-serif" textLength="47.3" lengthAdjust="spacingAndGlyphs"><tspan>(K, Cs)</tspan><tspan font-size="5.04" dy="1.60">1−x</tspan><tspan dy="-1.60">Fe</tspan><tspan font-size="5.04" dy="1.60">2</tspan><tspan dy="-1.60">Se</tspan><tspan font-size="5.04" dy="1.60">2</tspan></text>
<text x="35.3" y="362.2" font-size="7.0" fill="#333333" stroke="#333333" stroke-width="0.0" font-family="Liberation Sans, sans-serif" textLength="16.2" lengthAdjust="spacingAndGlyphs"><tspan>MgB</tspan><tspan font-size="5.04" dy="1.60">2</tspan></text>
<path d="M101.3,262.10H117" stroke="#a9d5d9" stroke-width="1.4" stroke-dasharray="3.2,0.8"/>
<path d="M101.3,264.20H117" stroke="#f8d0aa" stroke-width="1.4" stroke-dasharray="3.2,0.8"/>
<path d="M102,273.50H117" stroke="#6ab2b8" stroke-width="0.7" stroke-dasharray="2.6,1.0"/>
<path d="M102,275.10H117" stroke="#f4b07c" stroke-width="0.7" stroke-dasharray="2.6,1.0"/>
<path d="M101.3,283.50H117" stroke="#a9d5d9" stroke-width="1.4" stroke-dasharray="3.2,0.8"/>
<path d="M101.3,285.60H117" stroke="#f8d0aa" stroke-width="1.4" stroke-dasharray="3.2,0.8"/>
<path d="M103.30,291.90 L106.60,295.40 L103.30,298.90 L100.00,295.40 Z" fill="#f07a1a"/><path d="M103.30,293.75 A1.65,1.65 0 0 1 103.30,297.05 Z" fill="#fff"/>
<path d="M115.00,291.90 L118.30,295.40 L115.00,298.90 L111.70,295.40 Z" fill="#1a7f7a"/><path d="M115.00,293.75 A1.65,1.65 0 0 0 115.00,297.05 Z" fill="#fff"/>
<path d="M103.30,302.60 L106.60,306.10 L103.30,309.60 L100.00,306.10 Z" fill="#f07a1a"/><path d="M101.65,306.10 A1.65,1.65 0 0 1 104.95,306.10 Z" fill="#fff"/>
<path d="M115.00,302.60 L118.30,306.10 L115.00,309.60 L111.70,306.10 Z" fill="#1a7f7a"/><path d="M113.35,306.10 A1.65,1.65 0 0 1 116.65,306.10 Z" fill="#fff"/>
<path d="M103.30,313.30 L106.60,316.80 L103.30,320.30 L100.00,316.80 Z" fill="#f07a1a"/><path d="M103.30,315.15 A1.65,1.65 0 0 1 103.30,318.45 Z" fill="#fff"/>
<path d="M115.00,313.30 L118.30,316.80 L115.00,320.30 L111.70,316.80 Z" fill="#1a7f7a"/><path d="M115.00,315.15 A1.65,1.65 0 0 0 115.00,318.45 Z" fill="#fff"/>
<path d="M103.30,324.00 L106.60,327.50 L103.30,331.00 L100.00,327.50 Z" fill="#f07a1a"/>
<path d="M115.00,324.00 L118.30,327.50 L115.00,331.00 L111.70,327.50 Z" fill="#1a7f7a"/>
<circle cx="103.30" cy="338.20" r="2.70" fill="#fff" stroke="#f07a1a" stroke-width="0.9"/><path d="M100.60,338.20 A2.70,2.70 0 0 1 106.00,338.20 Z" fill="#f07a1a"/>
<circle cx="115.00" cy="338.20" r="2.70" fill="#fff" stroke="#1a7f7a" stroke-width="0.9"/><path d="M112.30,338.20 A2.70,2.70 0 0 1 117.70,338.20 Z" fill="#1a7f7a"/>
<circle cx="103.30" cy="348.90" r="2.70" fill="#fff" stroke="#f07a1a" stroke-width="0.9"/><path d="M103.30,346.20 A2.70,2.70 0 0 1 103.30,351.60 Z" fill="#f07a1a"/>
<circle cx="115.00" cy="348.90" r="2.70" fill="#fff" stroke="#1a7f7a" stroke-width="0.9"/><path d="M115.00,346.20 A2.70,2.70 0 0 1 115.00,351.60 Z" fill="#1a7f7a"/>
<circle cx="103.30" cy="359.60" r="2.70" fill="#fff" stroke="#f07a1a" stroke-width="0.9"/><path d="M103.30,356.90 A2.70,2.70 0 0 0 103.30,362.30 Z" fill="#f07a1a"/>
<circle cx="115.00" cy="359.60" r="2.70" fill="#fff" stroke="#1a7f7a" stroke-width="0.9"/><path d="M115.00,356.90 A2.70,2.70 0 0 0 115.00,362.30 Z" fill="#1a7f7a"/>
<text x="123.5" y="265.9" font-size="7.0" fill="#333333" stroke="#333333" stroke-width="0.0" font-family="Liberation Sans, sans-serif" textLength="31.4" lengthAdjust="spacingAndGlyphs"><tspan>Mg(B</tspan><tspan font-size="5.04" dy="1.60">1−x</tspan><tspan dy="-1.60">C</tspan><tspan font-size="5.04" dy="1.60">x</tspan><tspan dy="-1.60">)</tspan><tspan font-size="5.04" dy="1.60">2</tspan></text>
<text x="123.5" y="276.6" font-size="7.0" fill="#333333" stroke="#333333" stroke-width="0.0" font-family="Liberation Sans, sans-serif" textLength="34.9" lengthAdjust="spacingAndGlyphs"><tspan>Mg</tspan><tspan font-size="5.04" dy="1.60">1−x</tspan><tspan dy="-1.60">Al</tspan><tspan font-size="5.04" dy="1.60">x</tspan><tspan dy="-1.60">B</tspan><tspan font-size="5.04" dy="1.60">2</tspan></text>
<text x="123.5" y="287.3" font-size="7.0" fill="#333333" stroke="#333333" stroke-width="0.0" font-family="Liberation Sans, sans-serif" textLength="37.5" lengthAdjust="spacingAndGlyphs"><tspan>Mg</tspan><tspan font-size="5.04" dy="1.60">1−x</tspan><tspan dy="-1.60">Mn</tspan><tspan font-size="5.04" dy="1.60">x</tspan><tspan dy="-1.60">B</tspan><tspan font-size="5.04" dy="1.60">2</tspan></text>
<text x="123.5" y="298.0" font-size="7.0" fill="#333333" stroke="#333333" stroke-width="0.0" font-family="Liberation Sans, sans-serif" textLength="24.5" lengthAdjust="spacingAndGlyphs"><tspan>YNi</tspan><tspan font-size="5.04" dy="1.60">2</tspan><tspan dy="-1.60">B</tspan><tspan font-size="5.04" dy="1.60">2</tspan><tspan dy="-1.60">C</tspan></text>
<text x="123.5" y="308.7" font-size="7.0" fill="#333333" stroke="#333333" stroke-width="0.0" font-family="Liberation Sans, sans-serif" textLength="28.4" lengthAdjust="spacingAndGlyphs"><tspan>2<tspan font-style="italic">H</tspan>-NbSe</tspan><tspan font-size="5.04" dy="1.60">2</tspan></text>
<text x="123.5" y="319.4" font-size="7.0" fill="#333333" stroke="#333333" stroke-width="0.0" font-family="Liberation Sans, sans-serif" textLength="45.6" lengthAdjust="spacingAndGlyphs"><tspan>Fe- &amp; Ir-silicides</tspan></text>
<text x="123.5" y="330.1" font-size="7.0" fill="#333333" stroke="#333333" stroke-width="0.0" font-family="Liberation Sans, sans-serif" textLength="28.9" lengthAdjust="spacingAndGlyphs"><tspan>PrOs</tspan><tspan font-size="5.04" dy="1.60">4</tspan><tspan dy="-1.60">Sb</tspan><tspan font-size="5.04" dy="1.60">12</tspan></text>
<text x="123.5" y="340.8" font-size="7.0" fill="#333333" stroke="#333333" stroke-width="0.0" font-family="Liberation Sans, sans-serif" textLength="12.8" lengthAdjust="spacingAndGlyphs"><tspan>V</tspan><tspan font-size="5.04" dy="1.60">3</tspan><tspan dy="-1.60">Si</tspan></text>
<text x="123.5" y="351.5" font-size="7.0" fill="#333333" stroke="#333333" stroke-width="0.0" font-family="Liberation Sans, sans-serif" textLength="21.3" lengthAdjust="spacingAndGlyphs"><tspan>Ba</tspan><tspan font-size="5.04" dy="1.60">8</tspan><tspan dy="-1.60">Si</tspan><tspan font-size="5.04" dy="1.60">46</tspan></text>
<text x="123.5" y="362.2" font-size="7.0" fill="#333333" stroke="#333333" stroke-width="0.0" font-family="Liberation Sans, sans-serif" textLength="22.0" lengthAdjust="spacingAndGlyphs"><tspan>Mo</tspan><tspan font-size="5.04" dy="1.60">3</tspan><tspan dy="-1.60">Sb</tspan><tspan font-size="5.04" dy="1.60">7</tspan></text>
<path d="M185.40,266.20 L187.68,262.00 L183.12,262.00 Z" fill="#c29a55"/>
<circle cx="185.40" cy="274.40" r="2.75" fill="#fff" stroke="#c4482a" stroke-width="0.7"/><circle cx="185.40" cy="274.40" r="0.96" fill="#c4482a"/>
<circle cx="185.40" cy="284.60" r="2.75" fill="#fff" stroke="#b5461a" stroke-width="0.8"/><path d="M182.65,284.60 A2.75,2.75 0 0 0 188.15,284.60 Z" fill="#b5461a"/>
<circle cx="185.40" cy="294.90" r="2.75" fill="#fff" stroke="#b5461a" stroke-width="0.8"/><path d="M182.65,294.90 A2.75,2.75 0 0 1 188.15,294.90 Z" fill="#b5461a"/>
<circle cx="185.40" cy="306.10" r="2.75" fill="#fff" stroke="#c8784e" stroke-width="0.8"/><circle cx="185.40" cy="306.10" r="1.16" fill="none" stroke="#c8784e" stroke-width="0.6400000000000001"/>
<path d="M182.80,316.70H188.00M185.40,314.10V319.30" stroke="#9c2a3a" stroke-width="1.3"/>
<circle cx="185.40" cy="327.30" r="2.75" fill="#fff" stroke="#1b7a30" stroke-width="0.8"/><path d="M182.65,327.30 A2.75,2.75 0 0 0 188.15,327.30 Z" fill="#1b7a30"/>
<circle cx="185.40" cy="337.90" r="2.75" fill="#fff" stroke="#1b7a30" stroke-width="0.8"/><path d="M182.65,337.90 A2.75,2.75 0 0 1 188.15,337.90 Z" fill="#1b7a30"/>
<circle cx="185.40" cy="348.50" r="2.75" fill="#fff" stroke="#1b7a30" stroke-width="0.8"/><path d="M185.40,345.75 A2.75,2.75 0 0 0 185.40,351.25 Z" fill="#1b7a30"/>
<circle cx="185.40" cy="359.30" r="2.75" fill="#fff" stroke="#1b7a30" stroke-width="0.8"/><path d="M185.40,356.55 A2.75,2.75 0 0 1 185.40,362.05 Z" fill="#1b7a30"/>
<text x="192.7" y="265.9" font-size="7.0" fill="#333333" stroke="#333333" stroke-width="0.0" font-family="Liberation Sans, sans-serif" textLength="27.1" lengthAdjust="spacingAndGlyphs"><tspan>BaNi</tspan><tspan font-size="5.04" dy="1.60">2</tspan><tspan dy="-1.60">As</tspan><tspan font-size="5.04" dy="1.60">2</tspan></text>
<text x="192.7" y="276.6" font-size="7.0" fill="#333333" stroke="#333333" stroke-width="0.0" font-family="Liberation Sans, sans-serif" textLength="53.7" lengthAdjust="spacingAndGlyphs"><tspan>Ga, Nb, Hg, Pb, Bi</tspan></text>
<text x="192.7" y="287.3" font-size="7.0" fill="#333333" stroke="#333333" stroke-width="0.0" font-family="Liberation Sans, sans-serif" textLength="19.3" lengthAdjust="spacingAndGlyphs"><tspan>Nb</tspan><tspan font-size="5.04" dy="1.60">3</tspan><tspan dy="-1.60">Ge</tspan></text>
<text x="192.7" y="298.0" font-size="7.0" fill="#333333" stroke="#333333" stroke-width="0.0" font-family="Liberation Sans, sans-serif" textLength="38.7" lengthAdjust="spacingAndGlyphs"><tspan>Ba</tspan><tspan font-size="5.04" dy="1.60">1−x</tspan><tspan dy="-1.60">K</tspan><tspan font-size="5.04" dy="1.60">x</tspan><tspan dy="-1.60">BiO</tspan><tspan font-size="5.04" dy="1.60">3</tspan></text>
<text x="192.7" y="308.7" font-size="7.0" fill="#333333" stroke="#333333" stroke-width="0.0" font-family="Liberation Sans, sans-serif" textLength="51.6" lengthAdjust="spacingAndGlyphs"><tspan>Rb</tspan><tspan font-size="5.04" dy="1.60">3</tspan><tspan dy="-1.60">C</tspan><tspan font-size="5.04" dy="1.60">60</tspan><tspan dy="-1.60">, Rb</tspan><tspan font-size="5.04" dy="1.60">2</tspan><tspan dy="-1.60">CsC</tspan><tspan font-size="5.04" dy="1.60">60</tspan></text>
<text x="192.7" y="319.4" font-size="7.0" fill="#333333" stroke="#333333" stroke-width="0.0" font-family="Liberation Sans, sans-serif" textLength="24.3" lengthAdjust="spacingAndGlyphs"><tspan>Sr</tspan><tspan font-size="5.04" dy="1.60">2</tspan><tspan dy="-1.60">RuO</tspan><tspan font-size="5.04" dy="1.60">4</tspan></text>
<text x="192.7" y="330.1" font-size="7.0" fill="#333333" stroke="#333333" stroke-width="0.0" font-family="Liberation Sans, sans-serif" textLength="39.3" lengthAdjust="spacingAndGlyphs"><tspan>YBa</tspan><tspan font-size="5.04" dy="1.60">2</tspan><tspan dy="-1.60">Cu</tspan><tspan font-size="5.04" dy="1.60">3</tspan><tspan dy="-1.60">O</tspan><tspan font-size="5.04" dy="1.60">6+δ</tspan></text>
<text x="192.7" y="340.8" font-size="7.0" fill="#333333" stroke="#333333" stroke-width="0.0" font-family="Liberation Sans, sans-serif" textLength="47.3" lengthAdjust="spacingAndGlyphs"><tspan>Y</tspan><tspan font-size="5.04" dy="1.60">1−x</tspan><tspan dy="-1.60">Ca</tspan><tspan font-size="5.04" dy="1.60">x</tspan><tspan dy="-1.60">Ba</tspan><tspan font-size="5.04" dy="1.60">2</tspan><tspan dy="-1.60">Cu</tspan><tspan font-size="5.04" dy="1.60">3</tspan><tspan dy="-1.60">O</tspan><tspan font-size="5.04" dy="1.60">7</tspan></text>
<text x="192.7" y="351.5" font-size="7.0" fill="#333333" stroke="#333333" stroke-width="0.0" font-family="Liberation Sans, sans-serif" textLength="49.0" lengthAdjust="spacingAndGlyphs"><tspan>Bi</tspan><tspan font-size="5.04" dy="1.60">2</tspan><tspan dy="-1.60">Sr</tspan><tspan font-size="5.04" dy="1.60">2</tspan><tspan dy="-1.60">CaCu</tspan><tspan font-size="5.04" dy="1.60">2</tspan><tspan dy="-1.60">O</tspan><tspan font-size="5.04" dy="1.60">8+δ</tspan></text>
<text x="192.7" y="362.2" font-size="7.0" fill="#333333" stroke="#333333" stroke-width="0.0" font-family="Liberation Sans, sans-serif" textLength="54.3" lengthAdjust="spacingAndGlyphs"><tspan>Bi</tspan><tspan font-size="5.04" dy="1.60">2</tspan><tspan dy="-1.60">Sr</tspan><tspan font-size="5.04" dy="1.60">2</tspan><tspan dy="-1.60">Ca</tspan><tspan font-size="5.04" dy="1.60">2</tspan><tspan dy="-1.60">Cu</tspan><tspan font-size="5.04" dy="1.60">3</tspan><tspan dy="-1.60">O</tspan><tspan font-size="5.04" dy="1.60">10+δ</tspan></text>
<path d="M260.40,271.40 L264.00,275.00 L260.40,278.60 L256.80,275.00 Z" fill="#1b7a30"/><path d="M258.60,275.00 A1.80,1.80 0 0 0 262.20,275.00 Z" fill="#fff"/>
<path d="M260.40,282.10 L264.00,285.70 L260.40,289.30 L256.80,285.70 Z" fill="#1b7a30"/><path d="M258.60,285.70 A1.80,1.80 0 0 1 262.20,285.70 Z" fill="#fff"/>
<path d="M260.40,292.50 L264.00,296.10 L260.40,299.70 L256.80,296.10 Z" fill="#fff" stroke="#1b7a30" stroke-width="0.9"/><path d="M260.40,292.50 L264.00,296.10 L260.40,299.70 Z" fill="#1b7a30"/>
<rect x="257.80" y="304.00" width="5.20" height="5.20" fill="#fff" stroke="#1b7a30" stroke-width="0.8"/><rect x="257.80" y="304.00" width="5.20" height="2.34" fill="#1b7a30"/>
<rect x="257.80" y="314.90" width="5.20" height="5.20" fill="#fff" stroke="#1b7a30" stroke-width="0.8"/><rect x="257.80" y="314.90" width="2.34" height="5.20" fill="#1b7a30"/>
<rect x="257.80" y="325.60" width="5.20" height="5.20" fill="#fff" stroke="#1b7a30" stroke-width="0.8"/><rect x="257.80" y="328.46" width="5.20" height="2.34" fill="#1b7a30"/>
<path d="M260.40,335.90 L263.35,338.04 L262.22,341.51 L258.58,341.51 L257.45,338.04 Z" fill="#fff" stroke="#1b7a30" stroke-width="0.8"/><path d="M257.45,338.04 L260.40,335.90 L263.35,338.04 L263.19,339.31 L257.61,339.31 Z" fill="#1b7a30"/>
<path d="M260.40,346.40 L263.35,348.54 L262.22,352.01 L258.58,352.01 L257.45,348.54 Z" fill="#fff" stroke="#1b7a30" stroke-width="0.8"/><path d="M257.61,349.65 L263.19,349.65 L262.22,352.01 L258.58,352.01 Z" fill="#1b7a30"/>
<path d="M260.40,356.90 L263.35,359.04 L262.22,362.51 L258.58,362.51 L257.45,359.04 Z" fill="#fff" stroke="#1b7a30" stroke-width="0.8"/><path d="M260.40,356.90 L257.45,359.04 L258.58,362.51 L260.40,362.51 Z" fill="#1b7a30"/>
<text x="267.8" y="277.4" font-size="7.0" fill="#333333" stroke="#333333" stroke-width="0.0" font-family="Liberation Sans, sans-serif" textLength="39.7" lengthAdjust="spacingAndGlyphs"><tspan>La</tspan><tspan font-size="5.04" dy="1.60">2−x</tspan><tspan dy="-1.60">Sr</tspan><tspan font-size="5.04" dy="1.60">x</tspan><tspan dy="-1.60">CuO</tspan><tspan font-size="5.04" dy="1.60">4</tspan></text>
<text x="267.8" y="288.1" font-size="7.0" fill="#333333" stroke="#333333" stroke-width="0.0" font-family="Liberation Sans, sans-serif" textLength="38.7" lengthAdjust="spacingAndGlyphs"><tspan>Tl</tspan><tspan font-size="5.04" dy="1.60">2</tspan><tspan dy="-1.60">Ba</tspan><tspan font-size="5.04" dy="1.60">2</tspan><tspan dy="-1.60">CuO</tspan><tspan font-size="5.04" dy="1.60">6+δ</tspan></text>
<text x="267.8" y="298.8" font-size="7.0" fill="#333333" stroke="#333333" stroke-width="0.0" font-family="Liberation Sans, sans-serif" textLength="38.7" lengthAdjust="spacingAndGlyphs"><tspan>HgBa</tspan><tspan font-size="5.04" dy="1.60">2</tspan><tspan dy="-1.60">CuO</tspan><tspan font-size="5.04" dy="1.60">4+δ</tspan></text>
<text x="267.8" y="309.5" font-size="7.0" fill="#333333" stroke="#333333" stroke-width="0.0" font-family="Liberation Sans, sans-serif" textLength="53.7" lengthAdjust="spacingAndGlyphs"><tspan>Pr</tspan><tspan font-size="5.04" dy="1.60">1−x</tspan><tspan dy="-1.60">LaCe</tspan><tspan font-size="5.04" dy="1.60">x</tspan><tspan dy="-1.60">CuO</tspan><tspan font-size="5.04" dy="1.60">4−δ</tspan></text>
<text x="267.8" y="320.2" font-size="7.0" fill="#333333" stroke="#333333" stroke-width="0.0" font-family="Liberation Sans, sans-serif" textLength="46.6" lengthAdjust="spacingAndGlyphs"><tspan>Pr</tspan><tspan font-size="5.04" dy="1.60">2−x</tspan><tspan dy="-1.60">Ce</tspan><tspan font-size="5.04" dy="1.60">x</tspan><tspan dy="-1.60">CuO</tspan><tspan font-size="5.04" dy="1.60">4+δ</tspan></text>
<text x="267.8" y="330.9" font-size="7.0" fill="#333333" stroke="#333333" stroke-width="0.0" font-family="Liberation Sans, sans-serif" textLength="47.2" lengthAdjust="spacingAndGlyphs"><tspan>Nd</tspan><tspan font-size="5.04" dy="1.60">2−x</tspan><tspan dy="-1.60">Ce</tspan><tspan font-size="5.04" dy="1.60">x</tspan><tspan dy="-1.60">CuO</tspan><tspan font-size="5.04" dy="1.60">4−δ</tspan></text>
<text x="267.8" y="341.6" font-size="7.0" fill="#333333" stroke="#333333" stroke-width="0.0" font-family="Liberation Sans, sans-serif" textLength="23.6" lengthAdjust="spacingAndGlyphs"><tspan>UPd</tspan><tspan font-size="5.04" dy="1.60">2</tspan><tspan dy="-1.60">Al</tspan><tspan font-size="5.04" dy="1.60">3</tspan></text>
<text x="267.8" y="352.3" font-size="7.0" fill="#333333" stroke="#333333" stroke-width="0.0" font-family="Liberation Sans, sans-serif" textLength="22.6" lengthAdjust="spacingAndGlyphs"><tspan>CeCoIn</tspan><tspan font-size="5.04" dy="1.60">5</tspan></text>
<text x="267.8" y="363.0" font-size="7.0" fill="#333333" stroke="#333333" stroke-width="0.0" font-family="Liberation Sans, sans-serif" textLength="26.4" lengthAdjust="spacingAndGlyphs"><tspan>CeCu</tspan><tspan font-size="5.04" dy="1.60">2</tspan><tspan dy="-1.60">Si</tspan><tspan font-size="5.04" dy="1.60">2</tspan></text>
</svg>
</body></html>
